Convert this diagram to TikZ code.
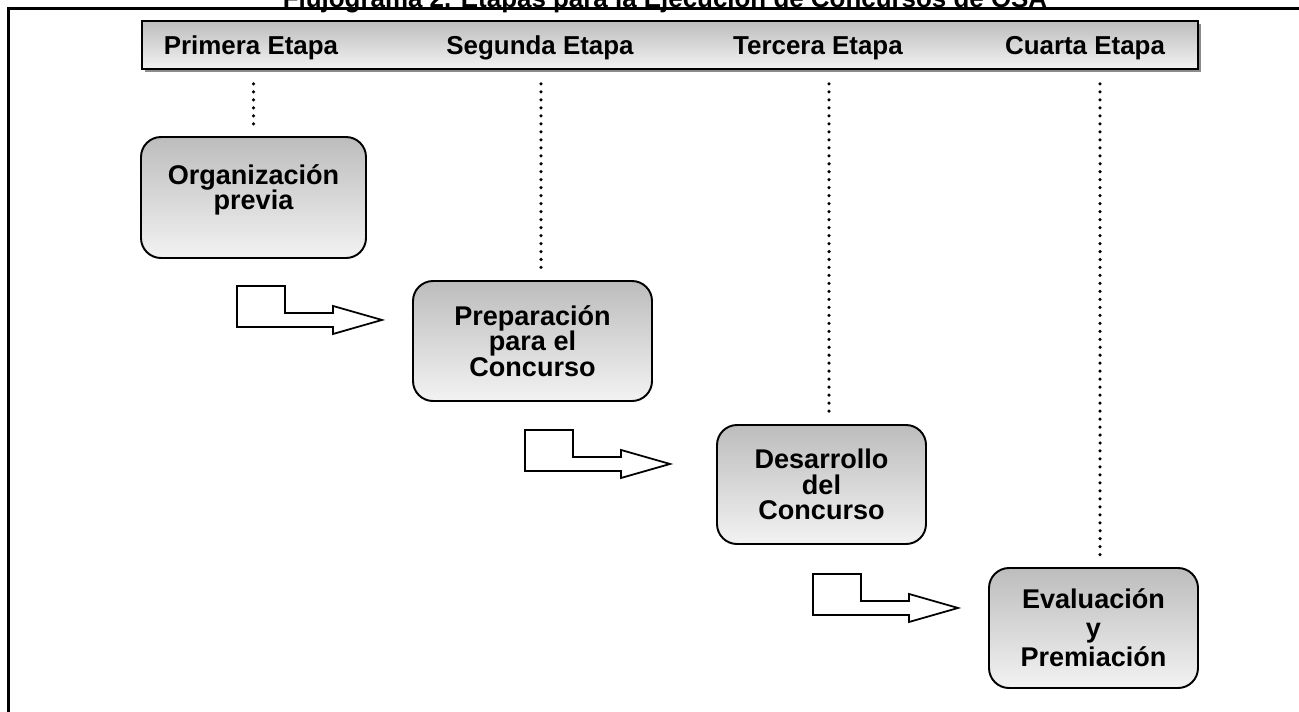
\documentclass[tikz,border=0pt]{standalone}
\usepackage{fontspec}
\setmainfont{Liberation Sans}
\usetikzlibrary{shadows}

\definecolor{grisarriba}{gray}{0.74}
\definecolor{grisabajo}{gray}{0.95}

\tikzset{
  etapa/.style={draw, line width=1.1pt, rounded corners=0.4cm, top color=grisarriba, bottom color=grisabajo,
    align=center, inner sep=0pt, minimum height=2.4cm, font=\fontsize{15.4}{14.5}\selectfont\bfseries},
  rotulo/.style={anchor=base, font=\fontsize{14.75}{16}\selectfont\bfseries},
  puntos/.style={line width=2pt, line cap=round, dash pattern=on 0pt off 4.54pt},
  flecha/.pic={
    \draw[line width=1pt, line join=miter, fill=white] (0,0) -- (0.96,0) -- (0.96,-0.54) -- (1.92,-0.54) -- (1.92,-0.4)
      -- (2.9,-0.68) -- (1.92,-0.96) -- (1.92,-0.82) -- (0,-0.82) -- cycle;
  }
}

\begin{document}
\lineskiplimit=-5pt
\begin{tikzpicture}
        \useasboundingbox (0,0) rectangle (25.98,-14.22);

        % Title, cut by the top of the page
        \node[anchor=base, font=\fontsize{14.75}{16}\selectfont\bfseries] (titulo) at (13.3,-0.14)
            {Flujograma 2. Etapas para la Ejecución de Concursos de OSA};

        % Frame
        \draw[line width=1.5pt] (0.17,-15) -- (0.17,-0.17) -- (27,-0.17);

        % Header bar with the stages
        \node[draw, line width=1.1pt, inner sep=0pt, minimum width=21.12cm, minimum height=0.96cm,
              top color=grisarriba, bottom color=grisabajo,
              general shadow={shadow xshift=0.06cm, shadow yshift=-0.06cm, fill=gray!90}] (cab) at (13.4,-0.9) {};
        \node[rotulo] (e1) at (5.02,-1.08) {Primera Etapa};
        \node[rotulo] (e2) at (10.8,-1.08) {Segunda Etapa};
        \node[rotulo] (e3) at (16.36,-1.08) {Tercera Etapa};
        \node[rotulo] (e4) at (21.7,-1.08) {Cuarta Etapa};

        % Stage boxes
        \node[etapa, minimum width=4.5cm, minimum height=2.42cm, text depth=0.42cm] (org) at (5.07,-3.95) {Organización\\previa};
        \node[etapa, minimum width=4.78cm] (pre) at (10.65,-6.82) {Preparación\\para el\\Concurso};
        \node[etapa, minimum width=4.18cm, minimum height=2.38cm] (des) at (16.43,-9.69) {Desarrollo\\del\\Concurso};
        \node[etapa, minimum width=4.18cm, font=\fontsize{15.4}{16.4}\selectfont\bfseries] (eva) at (21.87,-12.56) {Evaluación\\y\\Premiación};

        % Dotted lines from the header down to each box
        \foreach \caja/\dx in {org/0, pre/0.17, des/0.15, eva/0.13}
            \draw[puntos] ([xshift=\dx cm]\caja.north |- cab.south) ++(0,-0.28) -- ([xshift=\dx cm, yshift=0.22cm]\caja.north);

        % Block arrows between the stages
        \foreach \caja/\dx/\dy in {org/-0.33/-0.54, pre/-0.15/-0.56, des/-0.17/-0.58}
            \pic at ([xshift=\dx cm, yshift=\dy cm]\caja.south) {flecha};
    \end{tikzpicture}
\end{document}
